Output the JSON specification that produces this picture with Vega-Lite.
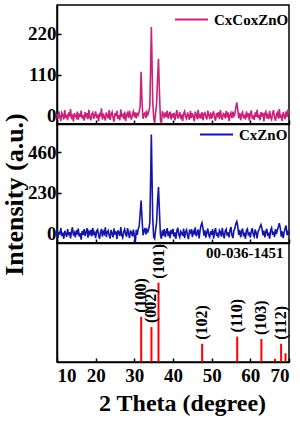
{
"$schema":"https://vega.github.io/schema/vega-lite/v6.json",
"padding":{"left":0,"top":1,"right":0,"bottom":4},
"spacing":0,
"bounds":"flush",
"config":{
"font":"Liberation Serif",
"view":{"stroke":"black","strokeWidth":1.5},
"axis":{"grid":false,"domainColor":"black","domainWidth":1.5,"tickColor":"black","tickWidth":1.5,"tickSize":-4,"labelFont":"Liberation Serif","labelFontWeight":"bold","labelFontSize":19,"labelColor":"black","labelOverlap":false,"titleFont":"Liberation Serif","titleFontWeight":"bold","titleColor":"black"},
"legend":{"orient":"none","symbolType":"stroke","symbolSize":1089,"symbolStrokeWidth":2,"labelFont":"Liberation Serif","labelFontWeight":"bold","labelFontSize":15,"labelColor":"black","labelOffset":5,"padding":0}
},
"datasets":{
"a":[{"t":10,"i":5},{"t":10.25,"i":-8},{"t":10.5,"i":12},{"t":10.75,"i":-3},{"t":11,"i":-14},{"t":11.25,"i":8},{"t":11.5,"i":2},{"t":11.75,"i":-10},{"t":12,"i":15},{"t":12.25,"i":-6},{"t":12.5,"i":3},{"t":12.75,"i":-12},{"t":13,"i":9},{"t":13.25,"i":-2},{"t":13.5,"i":18},{"t":13.75,"i":-9},{"t":14,"i":4},{"t":14.25,"i":-15},{"t":14.5,"i":7},{"t":14.75,"i":0},{"t":15,"i":-5},{"t":15.25,"i":11},{"t":15.5,"i":-11},{"t":15.75,"i":6},{"t":16,"i":-3},{"t":16.25,"i":14},{"t":16.5,"i":-7},{"t":16.75,"i":2},{"t":17,"i":-13},{"t":17.25,"i":10},{"t":17.5,"i":-1},{"t":17.75,"i":7},{"t":18,"i":-9},{"t":18.25,"i":16},{"t":18.5,"i":-4},{"t":18.75,"i":-12},{"t":19,"i":5},{"t":19.25,"i":9},{"t":19.5,"i":-8},{"t":19.75,"i":1},
{"t":20,"i":12},{"t":20.25,"i":-6},{"t":20.5,"i":3},{"t":20.75,"i":-15},{"t":21,"i":8},{"t":21.25,"i":-2},{"t":21.5,"i":20},{"t":21.75,"i":-10},{"t":22,"i":6},{"t":22.25,"i":-4},{"t":22.5,"i":-13},{"t":22.75,"i":9},{"t":23,"i":1},{"t":23.25,"i":-7},{"t":23.5,"i":15},{"t":23.75,"i":-11},{"t":24,"i":4},{"t":24.25,"i":10},{"t":24.5,"i":-5},{"t":24.75,"i":-16},{"t":25,"i":7},{"t":25.25,"i":-1},{"t":25.5,"i":13},{"t":25.75,"i":-8},{"t":26,"i":2},{"t":26.25,"i":-12},{"t":26.5,"i":17},{"t":26.75,"i":-3},{"t":27,"i":6},{"t":27.25,"i":-9},{"t":27.5,"i":11},{"t":27.75,"i":-14},{"t":28,"i":3},{"t":28.25,"i":8},{"t":28.5,"i":-6},{"t":28.75,"i":14},{"t":29,"i":-2},{"t":29.25,"i":-10},{"t":29.5,"i":5},{"t":29.75,"i":12},
{"t":30,"i":-4},{"t":30.25,"i":9},{"t":30.5,"i":-7},{"t":30.75,"i":6},{"t":31,"i":2},{"t":31.25,"i":10},{"t":31.5,"i":25},{"t":31.75,"i":118},{"t":32,"i":35},{"t":32.25,"i":-8},{"t":32.5,"i":4},{"t":32.75,"i":8},{"t":33,"i":-6},{"t":33.25,"i":10},{"t":33.5,"i":3},{"t":33.75,"i":12},{"t":34,"i":25},{"t":34.25,"i":150},{"t":34.4,"i":238},{"t":34.5,"i":190},{"t":34.75,"i":40},{"t":35,"i":-5},{"t":35.25,"i":-20},{"t":35.5,"i":8},{"t":35.75,"i":30},{"t":36,"i":100},{"t":36.25,"i":153},{"t":36.5,"i":60},{"t":36.75,"i":-10},{"t":37,"i":-20},{"t":37.25,"i":12},{"t":37.5,"i":5},{"t":37.75,"i":-6},{"t":38,"i":9},{"t":38.25,"i":-3},{"t":38.5,"i":14},{"t":38.75,"i":-8},{"t":39,"i":4},{"t":39.25,"i":11},{"t":39.5,"i":-10},{"t":39.75,"i":6},
{"t":40,"i":-5},{"t":40.25,"i":8},{"t":40.5,"i":-12},{"t":40.75,"i":3},{"t":41,"i":15},{"t":41.25,"i":-7},{"t":41.5,"i":1},{"t":41.75,"i":10},{"t":42,"i":-9},{"t":42.25,"i":4},{"t":42.5,"i":-14},{"t":42.75,"i":6},{"t":43,"i":12},{"t":43.25,"i":-3},{"t":43.5,"i":-8},{"t":43.75,"i":9},{"t":44,"i":0},{"t":44.25,"i":-11},{"t":44.5,"i":13},{"t":44.75,"i":-6},{"t":45,"i":7},{"t":45.25,"i":-2},{"t":45.5,"i":-15},{"t":45.75,"i":11},{"t":46,"i":4},{"t":46.25,"i":-9},{"t":46.5,"i":16},{"t":46.75,"i":-4},{"t":47,"i":2},{"t":47.25,"i":-7},{"t":47.5,"i":10},{"t":47.75,"i":-12},{"t":48,"i":5},{"t":48.25,"i":8},{"t":48.5,"i":-3},{"t":48.75,"i":-10},{"t":49,"i":14},{"t":49.25,"i":1},{"t":49.5,"i":-6},{"t":49.75,"i":9},
{"t":50,"i":-8},{"t":50.25,"i":3},{"t":50.5,"i":12},{"t":50.75,"i":-5},{"t":51,"i":-13},{"t":51.25,"i":7},{"t":51.5,"i":0},{"t":51.75,"i":10},{"t":52,"i":-9},{"t":52.25,"i":15},{"t":52.5,"i":-2},{"t":52.75,"i":-11},{"t":53,"i":6},{"t":53.25,"i":4},{"t":53.5,"i":-7},{"t":53.75,"i":13},{"t":54,"i":-4},{"t":54.25,"i":9},{"t":54.5,"i":-14},{"t":54.75,"i":2},{"t":55,"i":8},{"t":55.25,"i":-6},{"t":55.5,"i":11},{"t":55.75,"i":-1},{"t":56,"i":5},{"t":56.25,"i":22},{"t":56.5,"i":36},{"t":56.75,"i":15},{"t":57,"i":-6},{"t":57.25,"i":8},{"t":57.5,"i":-12},{"t":57.75,"i":4},{"t":58,"i":10},{"t":58.25,"i":-7},{"t":58.5,"i":3},{"t":58.75,"i":-10},{"t":59,"i":12},{"t":59.25,"i":-4},{"t":59.5,"i":7},{"t":59.75,"i":-13},
{"t":60,"i":5},{"t":60.25,"i":14},{"t":60.5,"i":-8},{"t":60.75,"i":1},{"t":61,"i":-11},{"t":61.25,"i":9},{"t":61.5,"i":-3},{"t":61.75,"i":16},{"t":62,"i":-6},{"t":62.25,"i":3},{"t":62.5,"i":-12},{"t":62.75,"i":10},{"t":63,"i":-2},{"t":63.25,"i":8},{"t":63.5,"i":-15},{"t":63.75,"i":6},{"t":64,"i":11},{"t":64.25,"i":-7},{"t":64.5,"i":2},{"t":64.75,"i":-9},{"t":65,"i":13},{"t":65.25,"i":-4},{"t":65.5,"i":-10},{"t":65.75,"i":7},{"t":66,"i":15},{"t":66.25,"i":-5},{"t":66.5,"i":-13},{"t":66.75,"i":4},{"t":67,"i":9},{"t":67.25,"i":-8},{"t":67.5,"i":18},{"t":67.75,"i":-6},{"t":68,"i":3},{"t":68.25,"i":-14},{"t":68.5,"i":10},{"t":68.75,"i":1},{"t":69,"i":-9},{"t":69.25,"i":12},{"t":69.5,"i":-3},{"t":69.75,"i":17},{"t":70,"i":5}],
"b":[{"t":10,"i":20},{"t":10.25,"i":-25},{"t":10.5,"i":10},{"t":10.75,"i":-5},{"t":11,"i":30},{"t":11.25,"i":-15},{"t":11.5,"i":5},{"t":11.75,"i":-30},{"t":12,"i":15},{"t":12.25,"i":0},{"t":12.5,"i":-20},{"t":12.75,"i":25},{"t":13,"i":-10},{"t":13.25,"i":8},{"t":13.5,"i":-28},{"t":13.75,"i":12},{"t":14,"i":35},{"t":14.25,"i":-12},{"t":14.5,"i":3},{"t":14.75,"i":-22},{"t":15,"i":18},{"t":15.25,"i":-6},{"t":15.5,"i":28},{"t":15.75,"i":-18},{"t":16,"i":2},{"t":16.25,"i":-35},{"t":16.5,"i":14},{"t":16.75,"i":-8},{"t":17,"i":24},{"t":17.25,"i":-14},{"t":17.5,"i":6},{"t":17.75,"i":30},{"t":18,"i":-24},{"t":18.25,"i":10},{"t":18.5,"i":-4},{"t":18.75,"i":20},{"t":19,"i":-16},{"t":19.25,"i":32},{"t":19.5,"i":-10},{"t":19.75,"i":4},
{"t":20,"i":-26},{"t":20.25,"i":14},{"t":20.5,"i":22},{"t":20.75,"i":-8},{"t":21,"i":-30},{"t":21.25,"i":6},{"t":21.5,"i":26},{"t":21.75,"i":-18},{"t":22,"i":10},{"t":22.25,"i":-2},{"t":22.5,"i":34},{"t":22.75,"i":-20},{"t":23,"i":8},{"t":23.25,"i":16},{"t":23.5,"i":-12},{"t":23.75,"i":-28},{"t":24,"i":20},{"t":24.25,"i":0},{"t":24.5,"i":-22},{"t":24.75,"i":28},{"t":25,"i":-6},{"t":25.25,"i":12},{"t":25.5,"i":-32},{"t":25.75,"i":18},{"t":26,"i":4},{"t":26.25,"i":-14},{"t":26.5,"i":36},{"t":26.75,"i":-10},{"t":27,"i":-24},{"t":27.25,"i":10},{"t":27.5,"i":24},{"t":27.75,"i":-4},{"t":28,"i":-18},{"t":28.25,"i":30},{"t":28.5,"i":2},{"t":28.75,"i":-26},{"t":29,"i":14},{"t":29.25,"i":8},{"t":29.5,"i":-16},{"t":29.75,"i":22},
{"t":30,"i":-12},{"t":30.25,"i":-50},{"t":30.5,"i":20},{"t":30.75,"i":-8},{"t":31,"i":26},{"t":31.25,"i":40},{"t":31.5,"i":110},{"t":31.75,"i":186},{"t":32,"i":80},{"t":32.25,"i":-10},{"t":32.5,"i":15},{"t":32.75,"i":30},{"t":33,"i":-5},{"t":33.25,"i":22},{"t":33.5,"i":10},{"t":33.75,"i":28},{"t":34,"i":60},{"t":34.25,"i":350},{"t":34.4,"i":560},{"t":34.5,"i":420},{"t":34.75,"i":90},{"t":35,"i":-20},{"t":35.25,"i":-30},{"t":35.5,"i":20},{"t":35.75,"i":60},{"t":36,"i":180},{"t":36.25,"i":262},{"t":36.5,"i":120},{"t":36.75,"i":-10},{"t":37,"i":-30},{"t":37.25,"i":18},{"t":37.5,"i":-12},{"t":37.75,"i":25},{"t":38,"i":-20},{"t":38.25,"i":8},{"t":38.5,"i":30},{"t":38.75,"i":-15},{"t":39,"i":12},{"t":39.25,"i":-26},{"t":39.5,"i":20},{"t":39.75,"i":-4},
{"t":40,"i":26},{"t":40.25,"i":-18},{"t":40.5,"i":6},{"t":40.75,"i":-30},{"t":41,"i":16},{"t":41.25,"i":32},{"t":41.5,"i":-8},{"t":41.75,"i":-22},{"t":42,"i":12},{"t":42.25,"i":2},{"t":42.5,"i":-14},{"t":42.75,"i":28},{"t":43,"i":-26},{"t":43.25,"i":8},{"t":43.5,"i":20},{"t":43.75,"i":-10},{"t":44,"i":-32},{"t":44.25,"i":14},{"t":44.5,"i":4},{"t":44.75,"i":24},{"t":45,"i":-20},{"t":45.25,"i":10},{"t":45.5,"i":-6},{"t":45.75,"i":34},{"t":46,"i":-16},{"t":46.25,"i":0},{"t":46.5,"i":22},{"t":46.75,"i":-28},{"t":47,"i":16},{"t":47.25,"i":45},{"t":47.5,"i":60},{"t":47.75,"i":30},{"t":48,"i":-12},{"t":48.25,"i":18},{"t":48.5,"i":-24},{"t":48.75,"i":6},{"t":49,"i":28},{"t":49.25,"i":-10},{"t":49.5,"i":-20},{"t":49.75,"i":12},
{"t":50,"i":-8},{"t":50.25,"i":24},{"t":50.5,"i":-30},{"t":50.75,"i":10},{"t":51,"i":30},{"t":51.25,"i":-14},{"t":51.5,"i":4},{"t":51.75,"i":-24},{"t":52,"i":18},{"t":52.25,"i":8},{"t":52.5,"i":-18},{"t":52.75,"i":32},{"t":53,"i":-6},{"t":53.25,"i":-28},{"t":53.5,"i":14},{"t":53.75,"i":24},{"t":54,"i":-12},{"t":54.25,"i":6},{"t":54.5,"i":-22},{"t":54.75,"i":20},{"t":55,"i":36},{"t":55.25,"i":-10},{"t":55.5,"i":-26},{"t":55.75,"i":16},{"t":56,"i":30},{"t":56.25,"i":55},{"t":56.5,"i":68},{"t":56.75,"i":40},{"t":57,"i":-8},{"t":57.25,"i":20},{"t":57.5,"i":-22},{"t":57.75,"i":10},{"t":58,"i":28},{"t":58.25,"i":-16},{"t":58.5,"i":4},{"t":58.75,"i":-30},{"t":59,"i":18},{"t":59.25,"i":26},{"t":59.5,"i":-12},{"t":59.75,"i":6},
{"t":60,"i":-24},{"t":60.25,"i":14},{"t":60.5,"i":30},{"t":60.75,"i":-6},{"t":61,"i":-18},{"t":61.25,"i":22},{"t":61.5,"i":2},{"t":61.75,"i":-28},{"t":62,"i":12},{"t":62.25,"i":20},{"t":62.5,"i":38},{"t":62.75,"i":50},{"t":63,"i":30},{"t":63.25,"i":-10},{"t":63.5,"i":16},{"t":63.75,"i":-22},{"t":64,"i":8},{"t":64.25,"i":26},{"t":64.5,"i":-14},{"t":64.75,"i":4},{"t":65,"i":-30},{"t":65.25,"i":18},{"t":65.5,"i":32},{"t":65.75,"i":-8},{"t":66,"i":10},{"t":66.25,"i":-20},{"t":66.5,"i":24},{"t":66.75,"i":-4},{"t":67,"i":20},{"t":67.25,"i":38},{"t":67.5,"i":58},{"t":67.75,"i":30},{"t":68,"i":-18},{"t":68.25,"i":12},{"t":68.5,"i":-26},{"t":68.75,"i":6},{"t":69,"i":30},{"t":69.25,"i":45},{"t":69.5,"i":-10},{"t":69.75,"i":16},{"t":70,"i":-8}],
"c":[{"t":31.77,"i":57,"h":"(100)"},{"t":34.42,"i":44,"h":"(002)"},{"t":36.25,"i":100,"h":"(101)"},{"t":47.54,"i":23,"h":"(102)"},{"t":56.6,"i":32,"h":"(110)"},{"t":62.86,"i":29,"h":"(103)"},{"t":66.38,"i":4,"h":""},{"t":67.96,"i":23,"h":"(112)"},{"t":69.1,"i":11,"h":""}],
"d":[{"card":"00-036-1451"}]
},
"resolve":{"scale":{"stroke":"independent","y":"independent"},"legend":{"stroke":"independent"}},
"vconcat":[
{"width":232,"height":119,"data":{"name":"a"},
"mark":{"type":"line","strokeWidth":1.6},
"encoding":{
"x":{"field":"t","type":"quantitative","scale":{"domain":[10,70],"nice":false},"axis":{"title":null,"labels":false,"tickCount":10,"values":[10,20,30,40,50,60,70]}},
"y":{"field":"i","type":"quantitative","scale":{"domain":[-22,297],"nice":false,"zero":false},"axis":{"title":null,"values":[0,110,220],"tickCount":5,"labelPadding":5}},
"stroke":{"datum":"CxCoxZnO","type":"nominal","scale":{"domain":["CxCoxZnO"],"range":["#C8237A"]},"legend":{"title":null,"legendX":117,"legendY":-3}}
}},
{"width":232,"height":119,"data":{"name":"b"},
"mark":{"type":"line","strokeWidth":1.6},
"encoding":{
"x":{"field":"t","type":"quantitative","scale":{"domain":[10,70],"nice":false},"axis":{"title":null,"labels":false,"tickCount":10,"values":[10,20,30,40,50,60,70]}},
"y":{"field":"i","type":"quantitative","scale":{"domain":[-54,619],"nice":false,"zero":false},"axis":{"title":"Intensity (a.u.)","titleFontSize":26,"titlePadding":0,"titleY":70,"values":[0,230,460],"tickCount":5,"labelPadding":5}},
"stroke":{"datum":"CxZnO","type":"nominal","scale":{"domain":["CxZnO"],"range":["#1515A8"]},"legend":{"title":null,"legendX":142,"legendY":-7}}
}},
{"width":232,"height":119,
"layer":[
{"data":{"name":"c"},"mark":{"type":"rule","color":"#FF0000","strokeWidth":2},
"encoding":{
"x":{"field":"t","type":"quantitative","scale":{"domain":[10,70],"nice":false},"axis":{"title":"2 Theta (degree)","titleFontSize":24,"titleX":125,"titlePadding":6,"labelPadding":8,"labelOverlap":false,"tickCount":10,"values":[10,20,30,40,50,60,70]}},
"y":{"field":"i","type":"quantitative","scale":{"domain":[0,150],"nice":false},"axis":{"title":null,"labels":false,"ticks":false}},
"y2":{"datum":0}
}},
{"data":{"name":"c"},"transform":[{"filter":"datum.h != ''"}],
"mark":{"type":"text","angle":270,"align":"left","baseline":"middle","dx":4,"font":"Liberation Serif","fontWeight":"bold","fontSize":16,"color":"black"},
"encoding":{
"x":{"field":"t","type":"quantitative"},
"y":{"field":"i","type":"quantitative"},
"text":{"field":"h"}
}},
{"data":{"name":"d"},
"mark":{"type":"text","align":"right","baseline":"middle","font":"Liberation Serif","fontWeight":"bold","fontSize":15,"color":"black"},
"encoding":{
"x":{"datum":68.6,"type":"quantitative"},
"y":{"datum":137,"type":"quantitative"},
"text":{"field":"card"}
}}
]}
]
}
